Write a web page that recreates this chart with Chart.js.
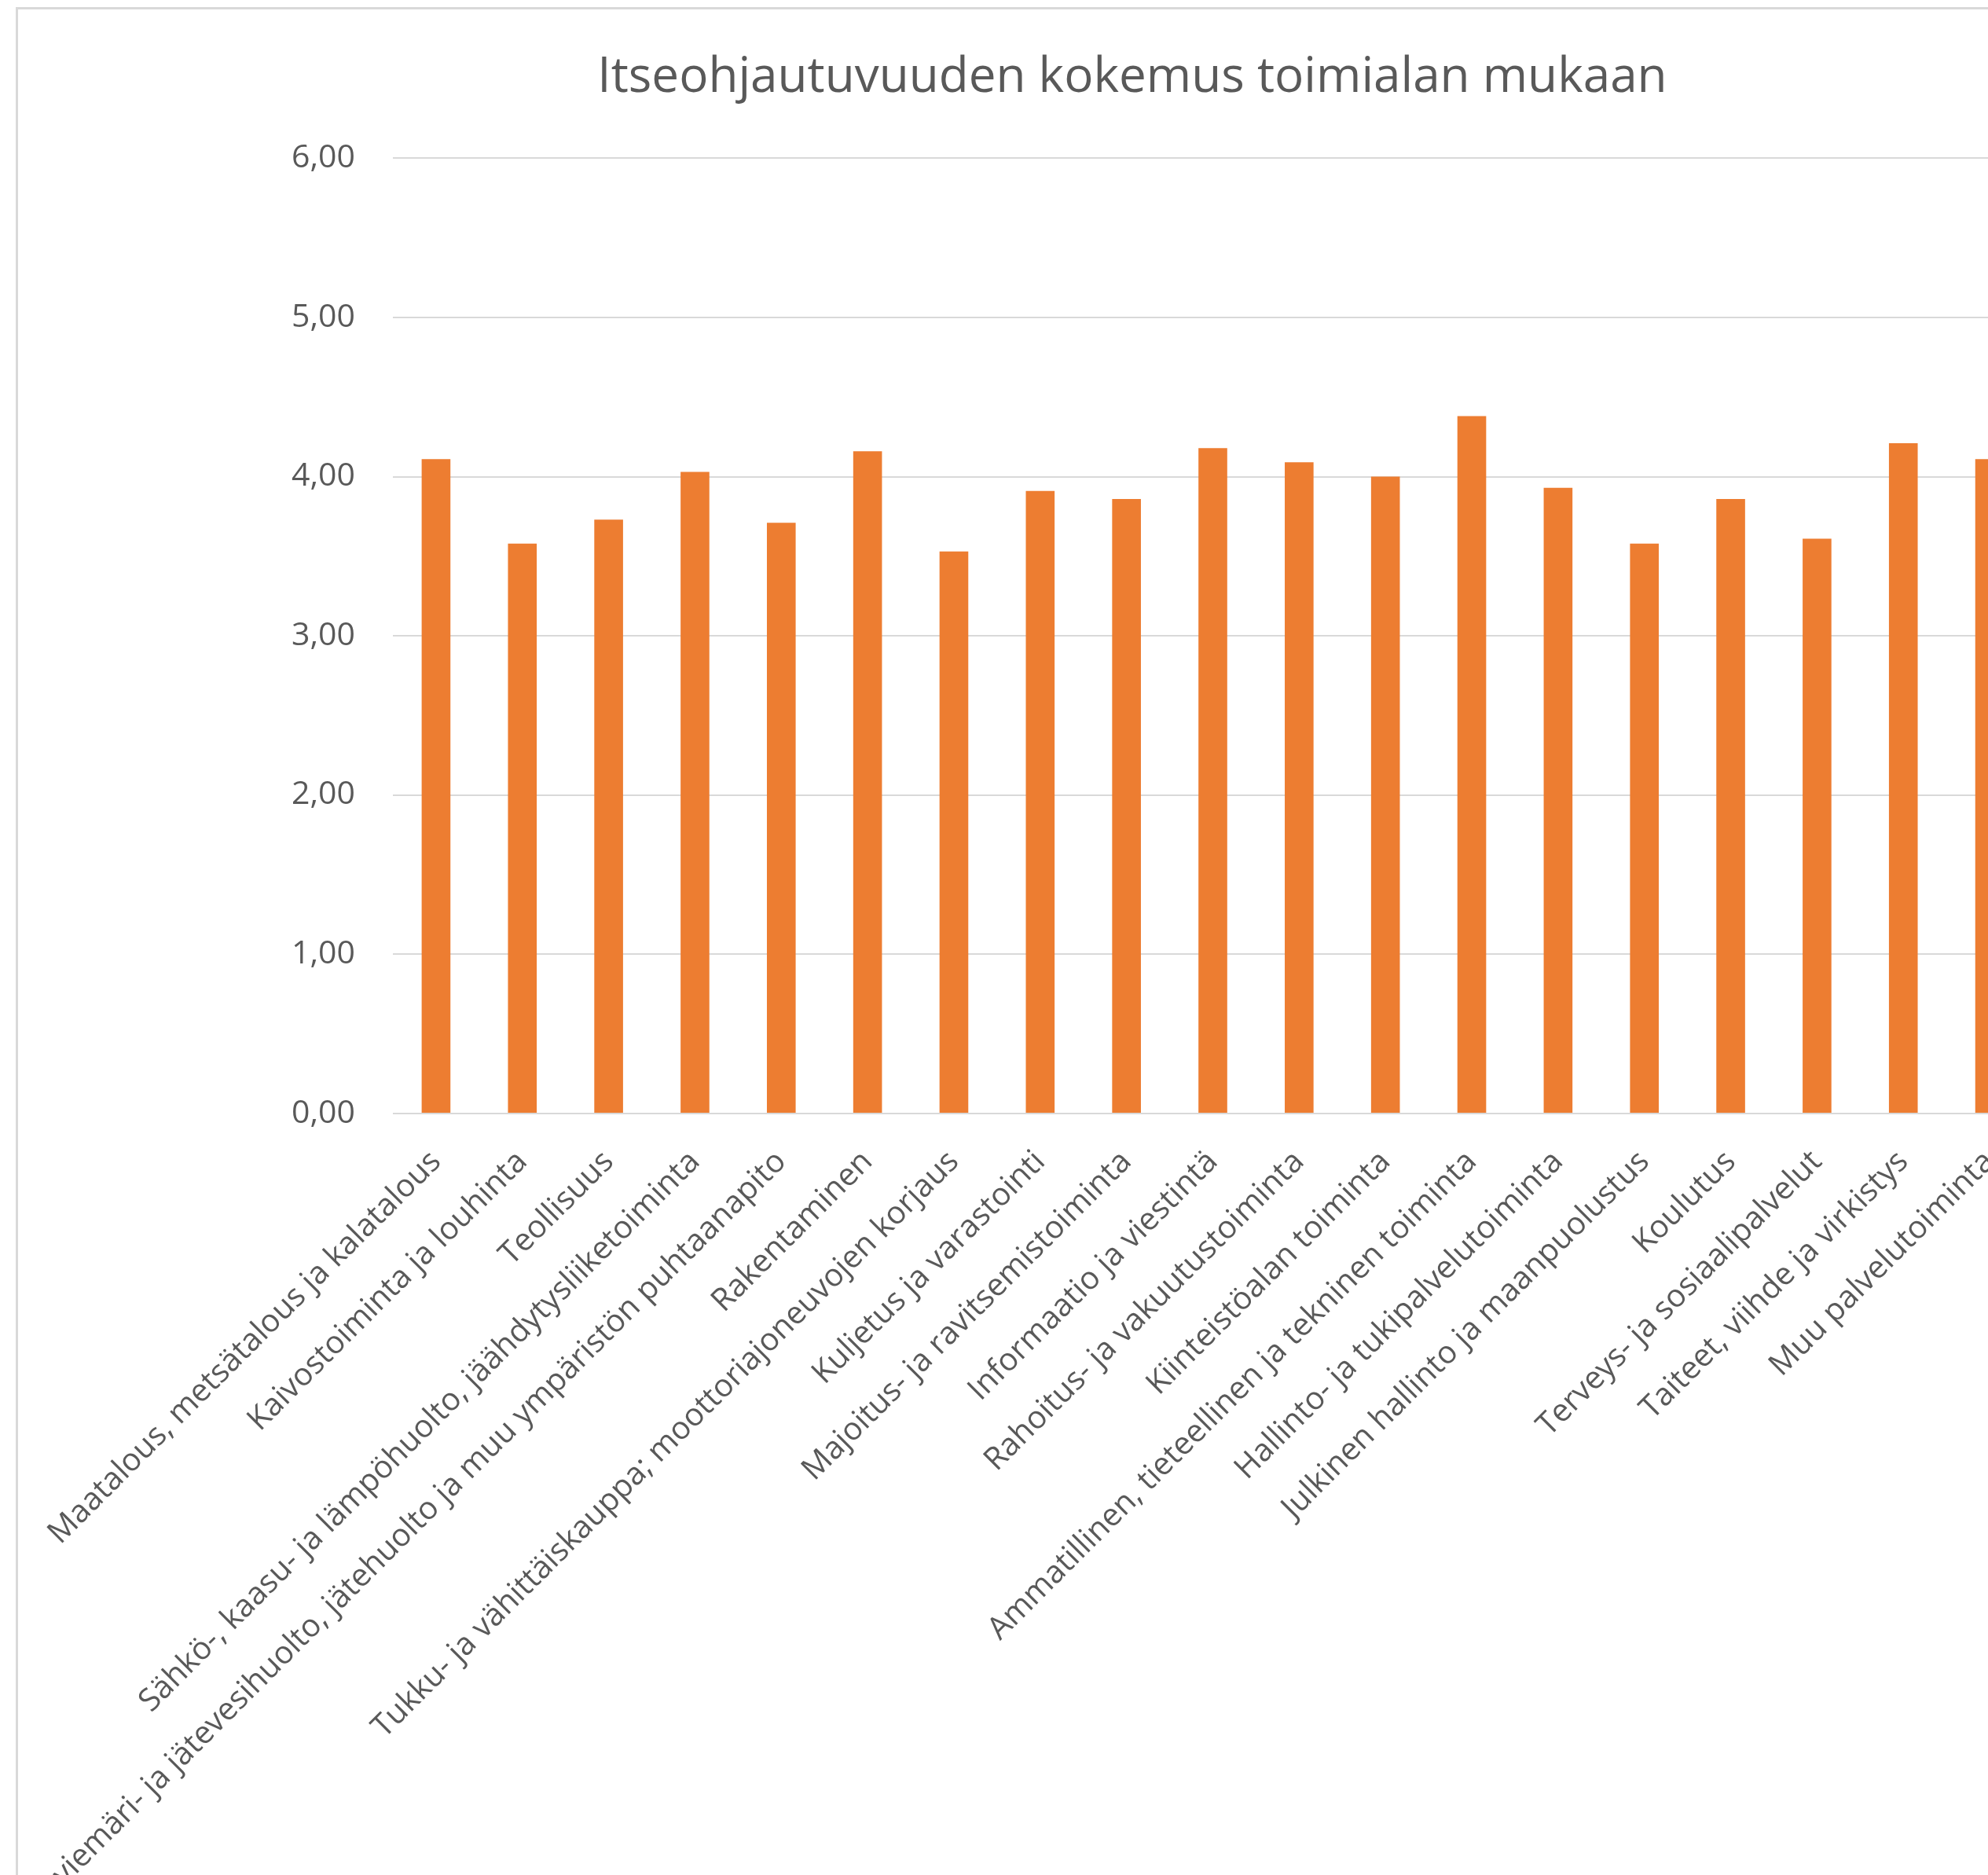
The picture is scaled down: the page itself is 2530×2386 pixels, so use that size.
<!DOCTYPE html>
<html>
<head>
<meta charset="utf-8">
<script src="https://cdn.jsdelivr.net/npm/chart.js@4.4.1/dist/chart.umd.min.js"></script>
<style>
  html, body { margin: 0; padding: 0; background: #ffffff; overflow: hidden; }
  #frame {
    position: absolute; left: 20px; top: 9px;
    border-left: 3px solid #d9d9d9; border-top: 3px solid #d9d9d9;
    background: #ffffff;
  }
  canvas { display: block; }
</style>
</head>
<body>
<div id="frame"><canvas id="myChart" width="2836" height="2374"></canvas></div>
<script>
/*
*Chart data
*/
const chartTitle = 'Itseohjautuvuuden kokemus toimialan mukaan';
const toimialat = [
    'Maatalous, metsätalous ja kalatalous',
    'Kaivostoiminta ja louhinta',
    'Teollisuus',
    'Sähkö-, kaasu- ja lämpöhuolto, jäähdytysliiketoiminta',
    'Vesihuolto, viemäri- ja jätevesihuolto, jätehuolto ja muu ympäristön puhtaanapito',
    'Rakentaminen',
    'Tukku- ja vähittäiskauppa; moottoriajoneuvojen korjaus',
    'Kuljetus ja varastointi',
    'Majoitus- ja ravitsemistoiminta',
    'Informaatio ja viestintä',
    'Rahoitus- ja vakuutustoiminta',
    'Kiinteistöalan toiminta',
    'Ammatillinen, tieteellinen ja tekninen toiminta',
    'Hallinto- ja tukipalvelutoiminta',
    'Julkinen hallinto ja maanpuolustus',
    'Koulutus',
    'Terveys- ja sosiaalipalvelut',
    'Taiteet, viihde ja virkistys',
    'Muu palvelutoiminta'
];
const keskiarvot = [4.11, 3.58, 3.73, 4.03, 3.71, 4.16, 3.53, 3.91, 3.86, 4.18, 4.09, 4.00, 4.38, 3.93, 3.58, 3.86, 3.61, 4.21, 4.11];
const yMin = 0;
const yMax = 6;
const yStep = 1;

/*
*Colors and fonts (Excel look)
*/
const colors = {
    BAR: 'rgb(237, 125, 49)',
    GRID: '#d9d9d9',
    TEXT: '#595959'
};
const fontFamily = '"Open Sans", "Noto Sans", sans-serif';

/*
*Format a tick value with a decimal comma
*/
function formatTick(value){
    return Number(value).toFixed(2).replace('.', ',');
}

/*
*Draw the bar graphic
*/
function drawGraphic(labels, values, id){
    const ctx = document.getElementById(id).getContext('2d');
    return new Chart(ctx, {
        type: 'bar',
        data: {
            labels: labels,
            datasets: [{
                data: values,
                backgroundColor: colors.BAR,
                borderWidth: 0,
                barPercentage: 1 / 3,   // gap width 200 %
                categoryPercentage: 1
            }]
        },
        options: {
            responsive: false,
            animation: false,
            layout: { padding: 0 },
            plugins: {
                legend: { display: false },
                tooltip: { enabled: false },
                title: {
                    display: true,
                    text: chartTitle,
                    color: colors.TEXT,
                    font: { family: fontFamily, size: 62, weight: 'normal' },
                    padding: { top: 50, bottom: 65 }
                }
            },
            scales: {
                x: {
                    grid: { display: false },
                    border: { display: false },
                    ticks: {
                        color: colors.TEXT,
                        font: { family: fontFamily, size: 40 },
                        minRotation: 45,
                        maxRotation: 45,
                        autoSkip: false,
                        padding: 30
                    },
                    afterFit: function(scale){ scale.height = 969; }
                },
                y: {
                    min: yMin,
                    max: yMax,
                    grid: { color: colors.GRID, lineWidth: 2, drawTicks: false },
                    border: { display: false },
                    ticks: {
                        stepSize: yStep,
                        color: colors.TEXT,
                        font: { family: fontFamily, size: 41 },
                        padding: 48,
                        callback: formatTick
                    },
                    afterFit: function(scale){ scale.width = 477; }
                },
                // empty space on the right, the chart continues past the picture
                yRight: {
                    position: 'right',
                    grid: { display: false },
                    border: { display: false },
                    ticks: { display: false },
                    afterFit: function(scale){ scale.width = 272; }
                }
            }
        }
    });
}

drawGraphic(toimialat, keskiarvot, 'myChart');
</script>
</body>
</html>
